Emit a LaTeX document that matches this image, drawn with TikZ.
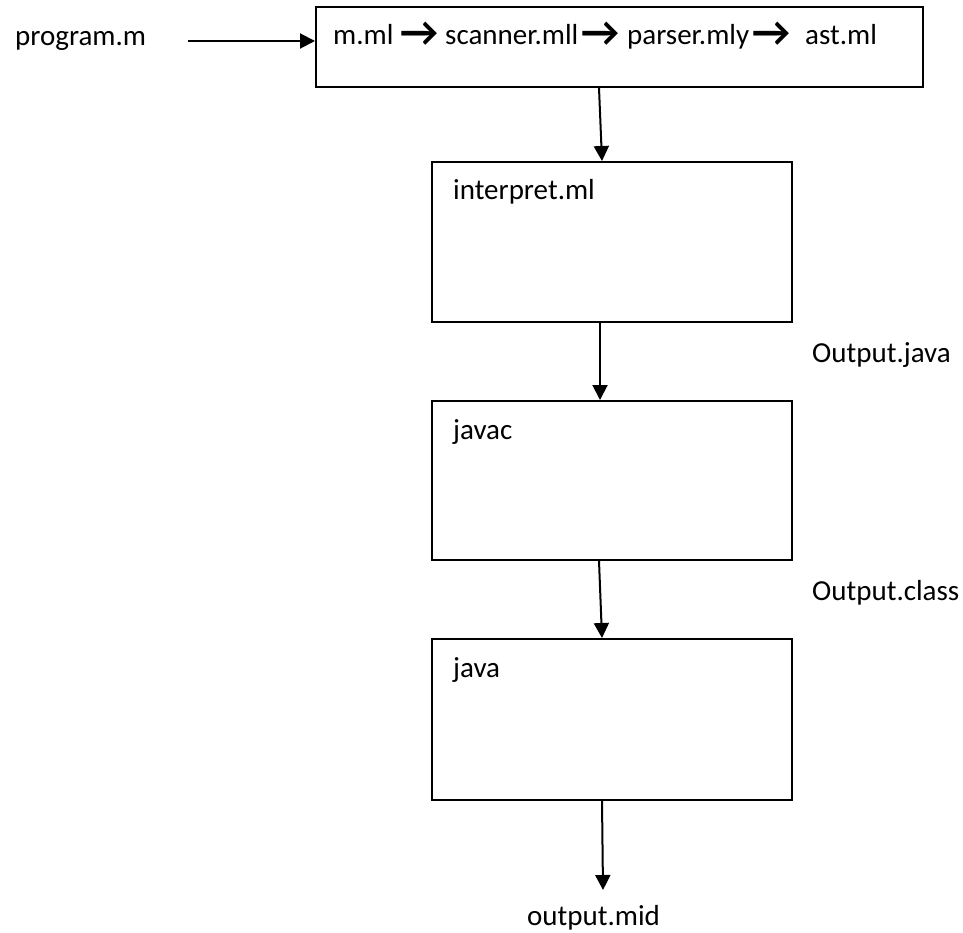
\documentclass[tikz,border=0pt]{standalone}
\usepackage{fontspec}
\setmainfont{Carlito}
\usetikzlibrary{arrows.meta,calc}
\begin{document}
\begin{tikzpicture}[x=1pt,y=-1pt,
  lbl/.style={font=\fontsize{29}{34}\selectfont, inner sep=0pt, anchor=base west},
  arw/.style={font=\fontsize{42}{42}\selectfont\bfseries, inner sep=0pt, anchor=base west, yshift=-2pt},
  box/.style={draw, line width=2pt, rectangle, inner sep=0pt},
  arr/.style={line width=2pt, -{Triangle[length=15pt,width=15pt]}}]
\useasboundingbox[fill=white] (0,0) rectangle (963,933);
\node[box, minimum width=607pt, minimum height=80pt] (top) at (619.5,47) {};
\node[box, minimum width=360pt, minimum height=160pt] (interp) at (612,242) {};
\node[box, minimum width=360pt, minimum height=159pt] (javac) at (612,480.5) {};
\node[box, minimum width=360pt, minimum height=161pt] (java) at (612,719.5) {};
\node[lbl] (prog) at (15,46) {program.m};
\node[lbl] (w1) at (333,45) {m.ml};
\node[arw] (a1) at (400,45) {→};
\node[lbl] (w2) at (445,45) {scanner.mll};
\node[arw] (a2) at (581,45) {→};
\node[lbl] (w3) at (627,45) {parser.mly};
\node[arw] (a3) at (752,45) {→};
\node[lbl] (w4) at (805,45) {ast.ml};
\node[lbl] (interptext) at (453,200) {interpret.ml};
\node[lbl] (javactext) at (453,439) {javac};
\node[lbl] (javatext) at (453,677) {java};
\node[lbl] (ojava) at (812,362) {Output.java};
\node[lbl] (oclass) at (812,600) {Output.class};
\node[lbl] (omid) at (527,925) {output.mid};
\coordinate (pstart) at (188,41);
\coordinate (oend) at (603,890);
\draw[arr] (pstart) -- (pstart -| top.west);
\draw[arr] ($(top.south west)+(284,0)$) -- ($(interp.north west)+(171,0)$);
\draw[arr] ($(interp.south west)+(169,0)$) -- ($(javac.north west)+(169,0)$);
\draw[arr] ($(javac.south west)+(168,0)$) -- ($(java.north west)+(171,0)$);
\draw[arr] ($(java.south west)+(171,0)$) -- (oend);
\end{tikzpicture}
\end{document}
